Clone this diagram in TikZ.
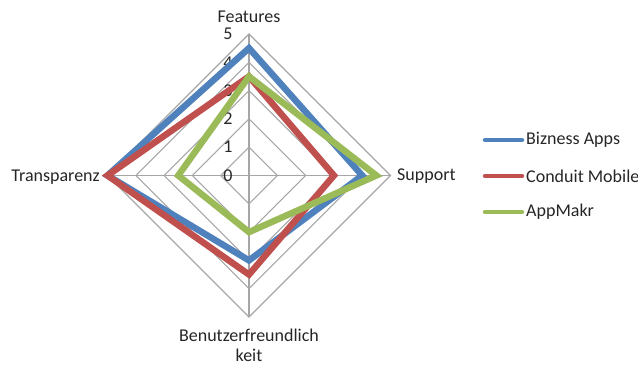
\documentclass[tikz,border=0pt]{standalone}
\usepackage{fontspec}
\setmainfont{Carlito}
\usepackage{tikz}
\usetikzlibrary{positioning}
\definecolor{serblue}{HTML}{4F81BD}
\definecolor{serred}{HTML}{C0504D}
\definecolor{sergreen}{HTML}{9BBB59}
\definecolor{gridgrey}{HTML}{A6A6A6}
\definecolor{labink}{HTML}{262626}
\tikzset{
  rd grid/.style={draw=gridgrey, line width=1.1pt},
  rd series/.style={line width=6.5pt, line join=miter},
  rd tick/.style={font=\fontsize{18}{20}\selectfont, inner sep=0pt, text=labink},
  rd axis/.style={font=\fontsize{18}{20}\selectfont, inner sep=0pt, text=labink, align=center},
  rd key/.style={line width=4.5pt, line cap=round},
}
\begin{document}
\begin{tikzpicture}[x=1pt, y=1pt]
  \useasboundingbox (0,0) rectangle (638,-367);
  \def\R{28.3}
  \begin{scope}[shift={(249,-175.5)}]
    \coordinate (ctr) at (0,0);
    \foreach \k in {1,...,5}
      \draw[rd grid] (0,\k*\R) -- (\k*\R,0) -- (0,-\k*\R) -- (-\k*\R,0) -- cycle;
    \coordinate (axF) at (0,5*\R); \coordinate (axS) at (5*\R,0);
    \coordinate (axB) at (0,-5*\R); \coordinate (axT) at (-5*\R,0);
    \draw[rd grid] (axF) -- (axB); \draw[rd grid] (axT) -- (axS);
    \foreach \k in {0,...,5}
      \node[rd tick] (tick\k) at (-21,\k*\R) {\k};
    \foreach \nm/\cl/\f/\s/\b/\t in {biz/serblue/4.5/4/3/5, cond/serred/3.5/3/3.5/5, amak/sergreen/3.5/4.5/2/2.5}
      \draw[rd series, \cl] (0,\f*\R) -- (\s*\R,0) -- (0,-\b*\R) -- (-\t*\R,0) -- cycle;
    \node[rd axis] (labF) at (0,158.5) {Features};
    \node[rd axis, anchor=west] (labS) at (148,-0.5) {Support};
    \node[rd axis, anchor=east] (labT) at (-149,-1.5) {Transparenz};
    \node[rd axis] (labB) at (0,-169.5) {Benutzerfreundlich\\keit};
  \end{scope}
  \foreach \nm/\cl/\yy/\txt in {biz/serblue/140/{Bizness Apps}, cond/serred/176/{Conduit Mobile}, amak/sergreen/212/{AppMakr}} {
    \coordinate (key\nm a) at (485,-\yy);
    \coordinate (key\nm b) at (522,-\yy);
    \draw[rd key, \cl] (key\nm a) -- (key\nm b);
    \node[rd axis, anchor=west] (lab\nm) at (526,-\yy) {\txt};
  }
\end{tikzpicture}
\end{document}
